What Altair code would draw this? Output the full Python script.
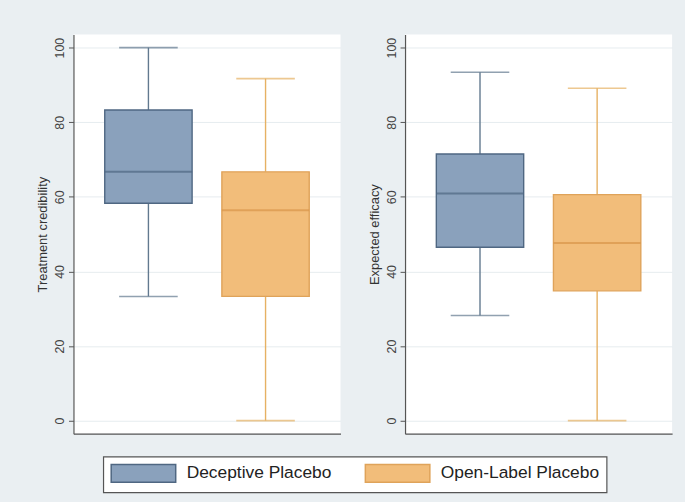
import altair as alt
import pandas as pd

# Group labels and box-plot summaries (min whisker, Q1, median, Q3, max whisker)
groups = ["Deceptive Placebo", "Open-Label Placebo"]

cred_lower = [33.3, 0.0]
cred_q1 = [58.3, 33.3]
cred_median = [66.7, 56.4]
cred_q3 = [83.3, 66.7]
cred_upper = [100.0, 91.7]

eff_lower = [28.2, 0.0]
eff_q1 = [46.5, 34.8]
eff_median = [60.9, 47.6]
eff_q3 = [71.5, 60.6]
eff_upper = [93.4, 89.1]

y_ticks = [0, 20, 40, 60, 80, 100]

FILL = ["#8aa1bc", "#f2bd7a"]
EDGE = ["#4f6782", "#dfa35a"]
WHISKER = ["#62798f", "#e6b163"]
MEDIAN = ["#4f6782", "#d8964a"]
FONT = "Liberation Sans"
AXIS_COL = "#555555"

# Wide legend swatch: an 18 px tall path stretched sideways to 65 px
SWATCH = "M-3.61,-1L3.61,-1L3.61,1L-3.61,1Z"


def panel_frame(lower, q1, median, q3, upper):
    return pd.DataFrame({
        "group": groups,
        "lower": lower,
        "q1": q1,
        "median": median,
        "q3": q3,
        "upper": upper,
        "wcol": WHISKER,
        "mcol": MEDIAN,
    })


def box_panel(df, ytitle):
    x = alt.X("group:N", sort=groups,
              scale=alt.Scale(type="point", padding=0.64),
              axis=alt.Axis(title=None, labels=False, ticks=False,
                            domain=True, domainColor=AXIS_COL,
                            domainWidth=1.2, grid=False))
    yscale = alt.Scale(domain=[-3.5, 103.5], nice=False, zero=False)
    yaxis = alt.Axis(title=ytitle, values=y_ticks, labelAngle=270,
                     labelAlign="center", labelBaseline="bottom",
                     labelFontSize=12.5, labelFont=FONT, labelColor="#444444",
                     labelPadding=2, tickSize=5, tickColor=AXIS_COL,
                     domainColor=AXIS_COL, domainWidth=1.2,
                     titleFont=FONT, titleFontSize=13, titleFontWeight="normal",
                     titleColor="#333333", titlePadding=4,
                     grid=True, gridColor="#e6ecef", gridWidth=1,
                     minExtent=20, maxExtent=20)
    legend = alt.Legend(title=None, orient="none", direction="horizontal",
                        legendX=30, legendY=425)
    base = alt.Chart(df)

    whisk_lo = base.mark_rule(strokeWidth=1.4).encode(
        x=x, y=alt.Y("lower:Q", scale=yscale, axis=yaxis), y2="q1:Q",
        color=alt.Color("wcol:N", scale=None))
    whisk_hi = base.mark_rule(strokeWidth=1.4).encode(
        x=x, y=alt.Y("q3:Q"), y2="upper:Q",
        color=alt.Color("wcol:N", scale=None))
    cap_lo = base.mark_tick(size=59, thickness=1.6).encode(
        x=x, y=alt.Y("lower:Q"), color=alt.Color("wcol:N", scale=None))
    cap_hi = base.mark_tick(size=59, thickness=1.6).encode(
        x=x, y=alt.Y("upper:Q"), color=alt.Color("wcol:N", scale=None))
    boxes = base.mark_bar(size=88, strokeWidth=1.4, opacity=1).encode(
        x=x, y=alt.Y("q1:Q"), y2="q3:Q",
        fill=alt.Fill("group:N", sort=groups,
                      scale=alt.Scale(domain=groups, range=FILL),
                      legend=legend),
        stroke=alt.Stroke("group:N", sort=groups,
                          scale=alt.Scale(domain=groups, range=EDGE),
                          legend=legend))
    medians = base.mark_tick(size=88, thickness=2).encode(
        x=x, y=alt.Y("median:Q"), color=alt.Color("mcol:N", scale=None))

    return alt.layer(whisk_lo, whisk_hi, boxes, medians, cap_lo, cap_hi).properties(
        width=269, height=402)


left = box_panel(panel_frame(cred_lower, cred_q1, cred_median, cred_q3, cred_upper),
                 "Treatment credibility")
right = box_panel(panel_frame(eff_lower, eff_q1, eff_median, eff_q3, eff_upper),
                  "Expected efficacy")

chart = alt.hconcat(left, right, spacing=28).properties(
    background="#eaeff2",
    padding={"left": 37, "top": 33, "right": 13, "bottom": 11},
).configure_view(
    fill="white", stroke=None
).configure_legend(
    symbolType=SWATCH,
    symbolSize=324,
    symbolOffset=23.5,
    symbolStrokeWidth=1.5,
    symbolOpacity=1,
    labelFont=FONT,
    labelFontSize=17.5,
    labelColor="#222222",
    labelOffset=33.5,
    labelLimit=300,
    columnPadding=31,
    padding=7,
    fillColor="white",
    strokeColor=AXIS_COL,
    strokeWidth=1.2,
)

chart.save("out.html", embed_options={"renderer": "svg", "actions": False})
